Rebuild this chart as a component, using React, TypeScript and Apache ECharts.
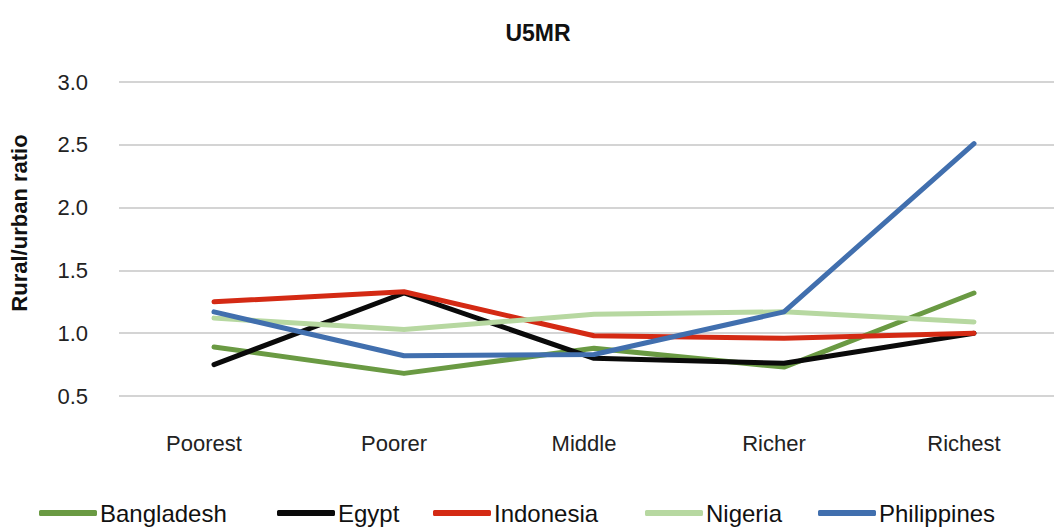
import React, { useEffect, useRef } from "react";
import * as echarts from "echarts";

const categories = ["Poorest", "Poorer", "Middle", "Richer", "Richest"];
const bangladesh = [0.89, 0.68, 0.88, 0.73, 1.32];
const egypt = [0.75, 1.32, 0.8, 0.76, 1.0];
const indonesia = [1.25, 1.33, 0.98, 0.96, 1.0];
const nigeria = [1.12, 1.03, 1.15, 1.17, 1.09];
const philippines = [1.17, 0.82, 0.83, 1.17, 2.51];
const seriesNames = ["Bangladesh", "Egypt", "Indonesia", "Nigeria", "Philippines"];
const seriesColors = ["#6a9a43", "#0a0a0a", "#d42a14", "#b7d8a1", "#416fae"];
const legendLefts = [39, 277, 433, 645, 818];

const FONT = "'Liberation Sans', Arial, Helvetica, sans-serif";

export default function App() {
  const ref = useRef<HTMLDivElement>(null);
  useEffect(() => {
    if (!ref.current) return;
    const chart = echarts.init(ref.current, null, { renderer: "svg" });
    const data = [bangladesh, egypt, indonesia, nigeria, philippines];
    chart.setOption({
      animation: false,
      textStyle: { fontFamily: FONT },
      title: {
        text: "U5MR",
        left: 533,
        textAlign: "center",
        top: 16,
        textStyle: { fontSize: 23, fontWeight: "bold", color: "#111", fontFamily: FONT },
      },
      graphic: [
        {
          type: "text",
          x: 19,
          y: 223,
          rotation: Math.PI / 2,
          style: {
            text: "Rural/urban ratio",
            fontSize: 22,
            fontWeight: "bold",
            fill: "#111",
            fontFamily: FONT,
            align: "center",
            verticalAlign: "middle",
          },
        },
      ],
      legend: seriesNames.map((name, i) => ({
        top: 501,
        left: legendLefts[i],
        padding: 0,
        icon: "roundRect",
        itemWidth: 58,
        itemHeight: 6,
        textStyle: { fontSize: 24, color: "#111", fontFamily: FONT, padding: [0, 0, 0, -2] },
        data: [name],
      })),
      grid: { left: 119, top: 82, width: 950, height: 314 },
      xAxis: {
        type: "category",
        data: categories,
        boundaryGap: true,
        axisLine: { show: false },
        axisTick: { show: false },
        axisLabel: {
          fontSize: 22,
          color: "#222",
          margin: 36,
          padding: [0, 20, 0, 0],
          fontFamily: FONT,
        },
      },
      yAxis: {
        type: "value",
        min: 0.5,
        max: 3,
        interval: 0.5,
        axisLine: { show: false },
        axisTick: { show: false },
        axisLabel: {
          fontSize: 22,
          color: "#222",
          margin: 31,
          formatter: (v: number) => v.toFixed(1),
          fontFamily: FONT,
        },
        splitLine: { lineStyle: { color: "#c6c6c6", width: 1.5 } },
      },
      series: seriesNames.map((name, i) => ({
        name,
        type: "line",
        data: data[i],
        showSymbol: false,
        symbol: "none",
        color: seriesColors[i],
        lineStyle: { width: 5, color: seriesColors[i], cap: "round", join: "round" },
      })),
    });
    return () => chart.dispose();
  }, []);
  return (
    <div style={{ position: "fixed", left: 0, top: 0, width: 1054, height: 527, overflow: "hidden", background: "#fff" }}>
      <div ref={ref} style={{ position: "absolute", left: 0, top: 0, width: 1070, height: 527 }} />
    </div>
  );
}
